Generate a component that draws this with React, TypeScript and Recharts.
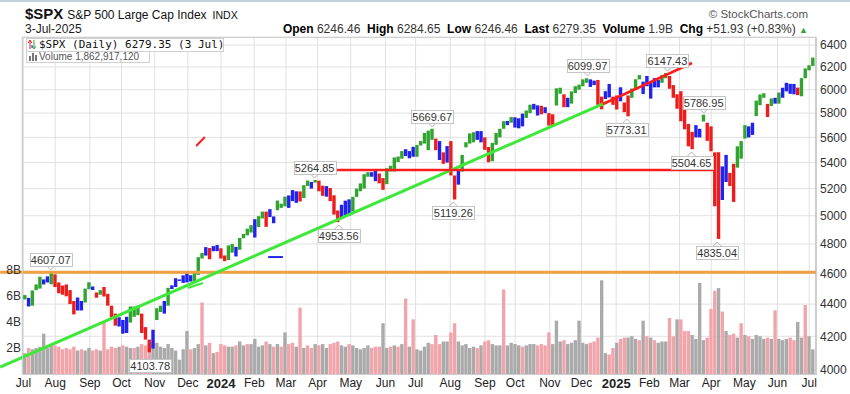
// $SPX daily chart (StockCharts style) rebuilt with Recharts

import React from "react";
import {
  Bar,
  CartesianGrid,
  Cell,
  ComposedChart,
  ReferenceDot,
  ReferenceLine,
  XAxis,
  YAxis,
} from "recharts";

const START = Date.UTC(2023, 6, 3); // Monday 3-Jul-2023
const DAY = 86400000;

// every week is split in two bars: Mon-Wed and Thu-Fri
const lows = [
  4430, 4385, 4390, 4490, 4500, 4527, 4540, 4528, 4510, 4470, 4460, 4450, 4400, 4335, 4360, 4360, 4410, 4495, 4490, 4440,
  4460, 4448, 4390, 4316, 4265, 4260, 4216, 4220, 4284, 4320, 4330, 4220, 4180, 4104, 4126, 4300, 4350, 4340, 4390, 4497,
  4510, 4550, 4537, 4540, 4546, 4547, 4590, 4700, 4720, 4695, 4750, 4750, 4700, 4682, 4690, 4740, 4714, 4760, 4840, 4860,
  4880, 4845, 4919, 4980, 4920, 4990, 4946, 5040, 5057, 5068, 5057, 5107, 5094, 5104, 5130, 5220, 5200, 5245, 5180, 5146,
  5140, 5107, 5008, 4954, 4990, 5000, 5000, 5030, 5138, 5180, 5200, 5290, 5290, 5256, 5240, 5191, 5234, 5331, 5330, 5404,
  5430, 5451, 5433, 5445, 5445, 5535, 5550, 5497, 5580, 5497, 5420, 5390, 5400, 5300, 5119, 5230, 5330, 5520, 5550, 5560,
  5580, 5560, 5500, 5402, 5410, 5540, 5600, 5670, 5700, 5720, 5680, 5674, 5690, 5760, 5800, 5830, 5780, 5790, 5800, 5696,
  5696, 5864, 5965, 5850, 5850, 5880, 5970, 6000, 6030, 6060, 6024, 6040, 5870, 5832, 5920, 5933, 5870, 5830, 5900, 5808,
  5773, 5930, 6000, 6090, 5962, 6030, 5923, 6020, 6020, 6060, 6100, 6008, 5930, 5837, 5732, 5666, 5528, 5505, 5600, 5600,
  5730, 5572, 5489, 5069, 4835, 5115, 5250, 5220, 5101, 5360, 5430, 5590, 5600, 5620, 5775, 5867, 5930, 5767, 5860, 5880,
  5880, 5930, 5985, 5964, 5960, 5953, 5943, 6100, 6170, 6210,
];

const highs = [
  4458, 4440, 4488, 4527, 4578, 4560, 4580, 4607, 4594, 4540, 4520, 4527, 4490, 4420, 4443, 4420, 4500, 4541, 4514, 4475,
  4490, 4511, 4466, 4390, 4340, 4317, 4300, 4320, 4385, 4385, 4390, 4340, 4256, 4180, 4240, 4374, 4390, 4420, 4505, 4521,
  4568, 4560, 4587, 4600, 4588, 4610, 4709, 4738, 4778, 4772, 4785, 4793, 4770, 4721, 4790, 4800, 4780, 4842, 4870, 4907,
  4932, 4975, 4997, 5030, 5030, 5048, 4995, 5111, 5088, 5140, 5149, 5189, 5180, 5179, 5226, 5261, 5250, 5265, 5260, 5222,
  5219, 5205, 5150, 5038, 5080, 5110, 5120, 5139, 5200, 5239, 5310, 5325, 5325, 5340, 5315, 5280, 5355, 5375, 5440, 5447,
  5490, 5505, 5490, 5524, 5539, 5570, 5636, 5655, 5670, 5590, 5570, 5480, 5530, 5570, 5300, 5350, 5460, 5561, 5632, 5642,
  5651, 5651, 5600, 5523, 5556, 5636, 5670, 5733, 5735, 5767, 5765, 5757, 5796, 5822, 5871, 5878, 5865, 5862, 5850, 5800,
  5790, 6012, 6017, 5960, 5930, 5985, 6030, 6044, 6090, 6100, 6090, 6079, 6085, 5940, 5987, 6050, 5940, 5950, 6021, 5890,
  5950, 6010, 6091, 6128, 6070, 6120, 6063, 6101, 6085, 6127, 6147, 6120, 6040, 5960, 5987, 5850, 5710, 5645, 5700, 5670,
  5787, 5720, 5690, 5480, 5481, 5370, 5460, 5320, 5390, 5528, 5570, 5700, 5690, 5720, 5906, 5959, 5969, 5878, 5925, 5930,
  5975, 6017, 6060, 6051, 6050, 6018, 6101, 6187, 6216, 6285,
];

// g = green, r = red, b = blue (impulse colours)
const barColors = (
  "gb gg gb bg rr rr rr bb gg br  gr rr rb bb gg gr rr bg gb gb  bb bb bg gg br bb rr gg bg gg " +
  "gb gg rb bg gg bb br gg bg rr  br rr bb bg gg gg bb rr gg gg  gb bb gg gg gr br br rb gg gg " +
  "bb rr gg gg bg bb bg gb br br  rg gr bg gg gg bb rr bb rr br  rg gg bb bb bg gr rr rr rr bb " +
  "gr rr rb br rg gg bb gg gr gb  gb bb br gg gg"
)
  .replace(/\s/g, "")
  .split("");

// billions of shares
const volumes = [
  1.6, 2.0, 1.9, 2.0, 2.1, 3.1, 2.0, 2.2, 2.2, 2.1, 1.9, 2.0, 1.9, 2.1, 1.8, 1.9, 1.8, 2.0, 1.8, 1.9,
  1.8, 4.0, 1.9, 2.1, 2.0, 2.1, 2.2, 2.1, 2.0, 2.0, 2.1, 2.3, 2.2, 2.3, 2.4, 2.4, 2.1, 2.0, 2.3, 2.0,
  1.8, 1.1, 1.9, 3.3, 1.9, 2.0, 2.3, 5.5, 2.2, 2.4, 1.6, 1.7, 2.3, 2.2, 2.1, 2.1, 2.2, 2.5, 2.2, 2.3,
  2.3, 2.7, 2.1, 2.2, 2.5, 2.3, 2.1, 2.3, 2.1, 3.2, 2.3, 2.4, 2.1, 5.1, 2.0, 2.2, 2.0, 2.3, 2.2, 2.3,
  2.0, 2.3, 2.4, 2.5, 2.2, 2.1, 2.3, 2.2, 2.0, 1.9, 2.0, 2.2, 2.0, 2.1, 2.1, 3.9, 2.0, 2.1, 2.2, 2.1,
  2.3, 5.8, 2.1, 4.2, 1.9, 1.8, 2.1, 2.4, 2.3, 3.0, 2.3, 2.5, 2.5, 3.2, 3.9, 2.5, 2.2, 2.3, 2.0, 2.1,
  2.0, 2.2, 2.5, 2.6, 2.3, 2.2, 2.2, 6.5, 2.2, 2.4, 2.3, 2.2, 2.1, 2.2, 2.3, 2.3, 2.2, 2.3, 2.2, 3.2,
  2.3, 4.1, 2.5, 2.6, 2.3, 2.4, 2.6, 4.1, 2.4, 2.3, 2.4, 2.5, 2.8, 7.2, 1.6, 1.5, 2.0, 2.4, 2.7, 2.8,
  2.8, 2.9, 2.7, 2.6, 4.1, 2.9, 2.8, 2.6, 2.4, 2.5, 2.5, 4.3, 2.9, 4.2, 4.2, 3.3, 3.3, 3.0, 2.7, 7.0,
  2.6, 2.8, 5.0, 6.4, 6.6, 4.8, 3.3, 3.0, 3.1, 2.8, 3.9, 3.0, 2.9, 2.7, 3.0, 2.9, 2.7, 2.8, 2.7, 4.9,
  2.7, 2.6, 2.7, 2.8, 2.6, 4.0, 2.8, 5.3, 2.9, 1.9,
];

// p = down day (pink), g = up day (grey)
const volColors = (
  "gp gg gg gg pp pp pp gp gg pp  gp pp pg pg gp gp pp gg gg gg  gg gg pg gp gp gp pp gg pg gp " +
  "gg gg pg pg pg pp gp gp pg pg  gp pp gg pg gg gg pp pg gp gp  gp gp gg gg pp pg gp pg gg gg " +
  "pg pp gg gp gg gg pg gg pp pp  gg gp gg gg gg pp pg gp pg pp  gg gp gp gp gg gp pg pp pg gg " +
  "gp pp gp gp pg pg pg gg gp gp  gg gp pg gp gg"
)
  .replace(/\s/g, "")
  .split("");

const monthStarts = [
  "2023-07-03", "2023-08-01", "2023-09-01", "2023-10-02", "2023-11-01", "2023-12-01",
  "2024-01-02", "2024-02-01", "2024-03-01", "2024-04-01", "2024-05-01", "2024-06-03",
  "2024-07-01", "2024-08-01", "2024-09-03", "2024-10-01", "2024-11-01", "2024-12-02",
  "2025-01-02", "2025-02-03", "2025-03-03", "2025-04-01", "2025-05-01", "2025-06-02", "2025-07-01",
];
const monthLabels = [
  "Jul", "Aug", "Sep", "Oct", "Nov", "Dec", "2024", "Feb", "Mar", "Apr", "May", "Jun",
  "Jul", "Aug", "Sep", "Oct", "Nov", "Dec", "2025", "Feb", "Mar", "Apr", "May", "Jun", "Jul",
];

const priceTicks = [4000, 4200, 4400, 4600, 4800, 5000, 5200, 5400, 5600, 5800, 6000, 6200, 6400];
const volTicks = [2e9, 4e9, 6e9, 8e9];

// highs / lows marked on the chart
const pivots = [
  { date: "2023-07-27", value: 4607.07, side: "up" },
  { date: "2023-10-27", value: 4103.78, side: "down" },
  { date: "2024-03-28", value: 5264.85, side: "up" },
  { date: "2024-04-19", value: 4953.56, side: "down" },
  { date: "2024-07-16", value: 5669.67, side: "up" },
  { date: "2024-08-05", value: 5119.26, side: "down" },
  { date: "2024-12-06", value: 6099.97, side: "up" },
  { date: "2025-01-13", value: 5773.31, side: "down" },
  { date: "2025-02-19", value: 6147.43, side: "up" },
  { date: "2025-03-13", value: 5504.65, side: "down" },
  { date: "2025-03-25", value: 5786.95, side: "up" },
  { date: "2025-04-07", value: 4835.04, side: "down" },
];

// drawn annotation lines: [x1, y1, x2, y2] in bar index / price units
const annotations = [
  { pts: [-6.6, 4607.07, 209.8, 4607.07], color: "#f0a041", width: 3 },
  { pts: [-6.6, 4017, 154.4, 5894], color: "#3ee83a", width: 3 },
  { pts: [43.2, 4504, 47.2, 4536], color: "#3ee83a", width: 2 },
  { pts: [71.9, 5342, 183, 5342], color: "#ff1c1c", width: 2.5 },
  { pts: [153.3, 5877, 176.9, 6236], color: "#ff1c1c", width: 2.5 },
  { pts: [45.4, 5531, 47.7, 5603], color: "#ff1c1c", width: 2 },
  { pts: [64.5, 4710, 68.4, 4710], color: "#2424f0", width: 2 },
];

const PRICE_COLORS: Record<string, string> = { g: "#2fa52f", r: "#ee1c1c", b: "#2222f0" };
const VOL_COLORS: Record<string, string> = { p: "#f2a4ab", g: "#aaaaaa" };
const FONT = "'Liberation Sans', Arial, sans-serif";

const dateIndex = (s: string) => {
  const d = Math.round((Date.parse(s) - START) / DAY);
  const week = Math.floor(d / 7);
  return week * 2 + (d % 7) * 0.4 - 0.4;
};

const data = lows.map((lo, i) => ({ i, range: [lo, highs[i]], vol: volumes[i] * 1e9 }));
const monthTicks = monthStarts.map(dateIndex);
const labelAt = new Map(monthTicks.map((t, k) => [t, monthLabels[k]]));

const MonthTick = (props: any) => {
  const { x, y, payload } = props;
  const label = labelAt.get(payload.value) ?? "";
  const isYear = /^\d{4}$/.test(label);
  return (
    <text
      x={x}
      y={y}
      dy="0.75em"
      textAnchor="middle"
      fontFamily={FONT}
      fontSize={isYear ? 13 : 12}
      fontWeight={isYear ? 700 : 400}
      fill="#222"
    >
      {label}
    </text>
  );
};

const PriceTag = ({ cx, cy, text, side }: any) => {
  const w = 42;
  const h = 13;
  const top = side === "up" ? Math.round(cy) - 6 - h : Math.round(cy) + 7;
  const edge = side === "up" ? top + h : top;
  const tip = side === "up" ? edge + 4 : edge - 4;
  const left = Math.round(cx - w / 2) + 0.5;
  return (
    <g>
      <path d={`M${cx - 4},${edge} L${cx},${tip} L${cx + 4},${edge}`} stroke="#b5b5b5" fill="none" />
      <rect x={left} y={top + 0.5} width={w} height={h} fill="#fff" stroke="#c4c4c4" />
      <text x={cx} y={top + 10.5} textAnchor="middle" fontFamily={FONT} fontSize={11} fill="#333">
        {text}
      </text>
    </g>
  );
};

export default function App() {
  return (
    <div style={{ position: "absolute", left: 0, top: 0, width: 850, height: 394, background: "#fff", overflow: "hidden" }}>
      <div style={{ position: "absolute", left: 0, top: 0, width: 850, height: 2, background: "#c3d0dd" }} />
      <div style={{ position: "absolute", left: 25, top: 5, fontFamily: FONT, whiteSpace: "nowrap", color: "#111" }}>
        <span style={{ fontSize: 15, fontWeight: 700 }}>$SPX</span>
        <span style={{ fontSize: 12, marginLeft: 4 }}>S&amp;P 500 Large Cap Index</span>
        <span style={{ fontSize: 10.5, marginLeft: 6 }}>INDX</span>
      </div>
      <div style={{ position: "absolute", left: 25, top: 22, fontFamily: FONT, fontSize: 12, color: "#222" }}>3-Jul-2025</div>
      <div style={{ position: "absolute", right: 42, top: 8, fontFamily: FONT, fontSize: 11.5, color: "#555" }}>
        © StockCharts.com
      </div>
      <div style={{ position: "absolute", right: 42, top: 22, fontFamily: FONT, fontSize: 12, color: "#333", whiteSpace: "nowrap" }}>
        <b style={{ color: "#000" }}>Open</b> 6246.46&nbsp; <b style={{ color: "#000" }}>High</b> 6284.65&nbsp;{" "}
        <b style={{ color: "#000" }}>Low</b> 6246.46&nbsp; <b style={{ color: "#000" }}>Last</b> 6279.35&nbsp;{" "}
        <b style={{ color: "#000" }}>Volume</b> 1.9B&nbsp; <b style={{ color: "#000" }}>Chg</b> +51.93 (+0.83%){" "}
        <span style={{ color: "#2fa52f", fontSize: 9 }}>▲</span>
      </div>

      <div style={{ position: "absolute", left: 0, top: 0 }}>
        <ComposedChart width={850} height={394} data={data} margin={{ top: 37, right: 0, bottom: 0, left: 0 }}>
          <CartesianGrid xAxisId="p" yAxisId="price" stroke="#e1e1e1" />
          <XAxis
            xAxisId="p"
            dataKey="i"
            type="number"
            domain={[-0.8, 209.8]}
            allowDataOverflow
            ticks={monthTicks}
            interval={0}
            tick={<MonthTick />}
            tickLine={false}
            tickSize={0}
            tickMargin={4}
            axisLine={false}
            height={20}
          />
          <XAxis xAxisId="v" dataKey="i" type="number" domain={[-0.8, 209.8]} allowDataOverflow hide />
          <YAxis
            yAxisId="vol"
            orientation="left"
            width={22}
            domain={[0, 25.9e9]}
            allowDataOverflow
            ticks={volTicks}
            interval={0}
            tickFormatter={(v: number) => `${v / 1e9}B`}
            tick={{ fontFamily: FONT, fontSize: 12, fill: "#333" }}
            tickLine={false}
            tickSize={0}
            tickMargin={1}
            axisLine={false}
          />
          <YAxis
            yAxisId="price"
            orientation="right"
            width={34}
            scale="log"
            domain={[3977, 6475]}
            allowDataOverflow
            ticks={priceTicks}
            interval={0}
            tick={{ fontFamily: FONT, fontSize: 12, fill: "#333" }}
            tickLine={false}
            tickSize={0}
            tickMargin={4}
            axisLine={{ stroke: "#a8a8a8" }}
          />
          <Bar xAxisId="v" yAxisId="vol" dataKey="vol" barSize={3.8} isAnimationActive={false}>
            {data.map((d) => (
              <Cell key={`v-${d.i}`} fill={VOL_COLORS[volColors[d.i]]} />
            ))}
          </Bar>
          <Bar xAxisId="p" yAxisId="price" dataKey="range" barSize={3.8} isAnimationActive={false}>
            {data.map((d) => (
              <Cell key={`p-${d.i}`} fill={PRICE_COLORS[barColors[d.i]]} />
            ))}
          </Bar>
          {annotations.map((a, k) => (
            <ReferenceLine
              key={`a-${k}`}
              xAxisId="p"
              yAxisId="price"
              segment={[
                { x: a.pts[0], y: a.pts[1] },
                { x: a.pts[2], y: a.pts[3] },
              ]}
              stroke={a.color}
              strokeWidth={a.width}
              ifOverflow="visible"
            />
          ))}
          {pivots.map((p) => (
            <ReferenceDot
              key={p.date}
              xAxisId="p"
              yAxisId="price"
              x={dateIndex(p.date)}
              y={p.value}
              r={1}
              ifOverflow="visible"
              shape={(s: any) => <PriceTag cx={s.cx} cy={s.cy} text={p.value.toFixed(2)} side={p.side} />}
            />
          ))}
        </ComposedChart>
      </div>

      {/* plot frame */}
      <div style={{ position: "absolute", left: 22, top: 37, width: 793, height: 336, border: "1px solid #cfcfcf", pointerEvents: "none" }} />

      {/* legend */}
      <div style={{ position: "absolute", left: 26, top: 38, width: 196, height: 12, background: "#fff", border: "1px solid #d0d0d0", fontFamily: "'DejaVu Sans Mono', monospace", fontSize: 11, lineHeight: "12px", whiteSpace: "nowrap", color: "#111" }}>
        <svg width="9" height="11" style={{ verticalAlign: "top", marginLeft: 1, marginRight: 2 }}>
          <path d="M2,10 L2,2 M0,4 L2,1 L4,4" stroke="#ee1c1c" fill="none" />
          <path d="M6,1 L6,9 M4,7 L6,10 L8,7" stroke="#2fa52f" fill="none" />
          <path d="M4,9 L4,6" stroke="#2222f0" />
        </svg>
        $SPX (Daily) 6279.35 (3 Jul)
      </div>
      <div style={{ position: "absolute", left: 26, top: 51, width: 122, height: 10, background: "#fff", border: "1px solid #d0d0d0", fontFamily: FONT, fontSize: 10, lineHeight: "10px", whiteSpace: "nowrap", color: "#555" }}>
        <svg width="9" height="9" style={{ verticalAlign: "top", marginLeft: 2, marginRight: 1 }}>
          <rect x="0" y="4" width="2" height="5" fill="#777" />
          <rect x="3" y="1" width="2" height="8" fill="#777" />
          <rect x="6" y="3" width="2" height="6" fill="#777" />
        </svg>
        Volume 1,862,917,120
      </div>
    </div>
  );
}
